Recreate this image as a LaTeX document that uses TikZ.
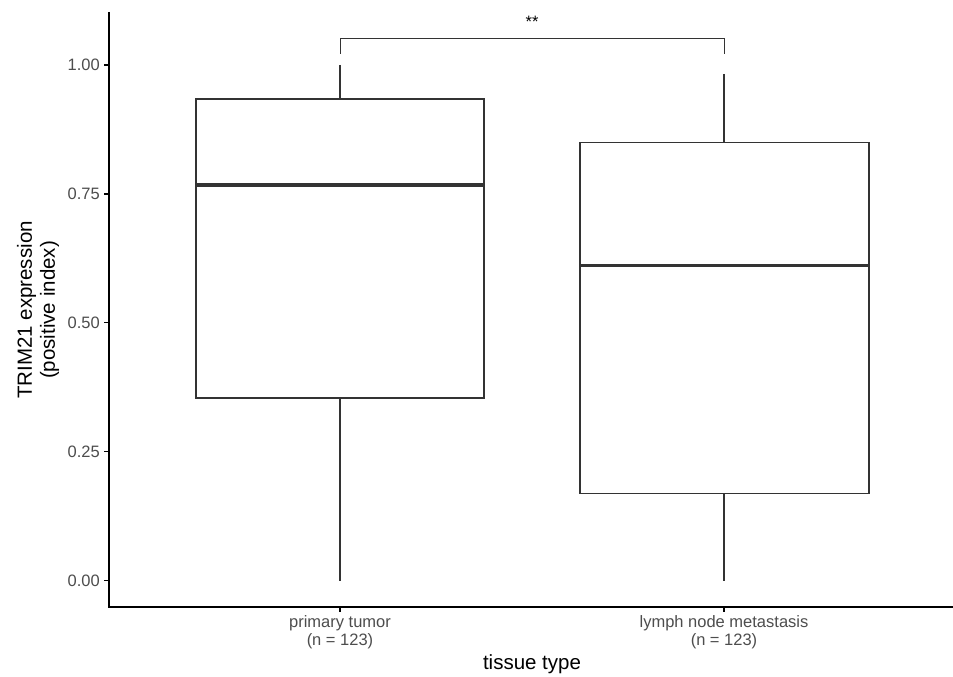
\documentclass[tikz,border=0pt]{standalone}
\usepackage{fontspec}
\setmainfont{Liberation Sans}
\definecolor{ticktext}{HTML}{4D4D4D}
\definecolor{boxline}{HTML}{333333}
\begin{document}
\begin{tikzpicture}[x=1pt,y=-1pt,
  axisline/.style={line width=1.6pt,black},
  tickline/.style={line width=1.4pt,black},
  boxedge/.style={line width=1.4pt,boxline},
  medianline/.style={line width=3.2pt,boxline},
  whisk/.style={line width=1.4pt,boxline},
  ticklab/.style={text=ticktext,font=\fontsize{16.5}{18}\selectfont,inner sep=0pt},
  titlelab/.style={text=black,font=\fontsize{20.5}{23}\selectfont,inner sep=0pt}]
\useasboundingbox (0,0) rectangle (953,677);
% axes
\coordinate (ytop) at (109,12);
\coordinate (origin) at (109,607);
\coordinate (xend) at (953,607);
\draw[axisline] (ytop) -- (origin) -- (xend);
% y ticks
\foreach \v/\lab in {0/0.00,0.25/0.25,0.5/0.50,0.75/0.75,1/1.00}{
  \draw[tickline] (104,580.5-515.5*\v) -- (109,580.5-515.5*\v);
  \node[ticklab,anchor=east] (yt\lab) at (100,580.5-515.5*\v) {\lab};
}
% x ticks
\draw[tickline] (340,607) -- (340,612);
\draw[tickline] (724,607) -- (724,612);
\node[ticklab,anchor=north,align=center] (xl1) at (340,615) {primary tumor\\(n = 123)};
\node[ticklab,anchor=north,align=center] (xl2) at (724,615) {lymph node metastasis\\(n = 123)};
% titles
\node[titlelab,anchor=center] (xtitle) at (532,664) {tissue type};
\node[titlelab,rotate=90,align=center] (ytitle) at (38,310) {TRIM21 expression\\(positive index)};
% box 1
\draw[whisk] (340,65) -- (340,99);
\draw[whisk] (340,398) -- (340,580.5);
\draw[boxedge] (196,99) rectangle (484,398);
\draw[medianline] (196,185) -- (484,185);
% box 2
\draw[whisk] (724,74) -- (724,142.7);
\draw[whisk] (724,493.7) -- (724,580.5);
\draw[boxedge] (580,142.7) rectangle (869,493.7);
\draw[medianline] (580,265.7) -- (869,265.7);
% significance bracket
\coordinate (b1) at (340,54);
\coordinate (b2) at (724,54);
\draw[line width=1pt,boxline] (b1) -- (340,39) -- (724,39) -- (b2);
\node[font=\fontsize{16.5}{18}\selectfont,inner sep=0pt] (sig) at (532,22) {**};
\end{tikzpicture}
\end{document}
